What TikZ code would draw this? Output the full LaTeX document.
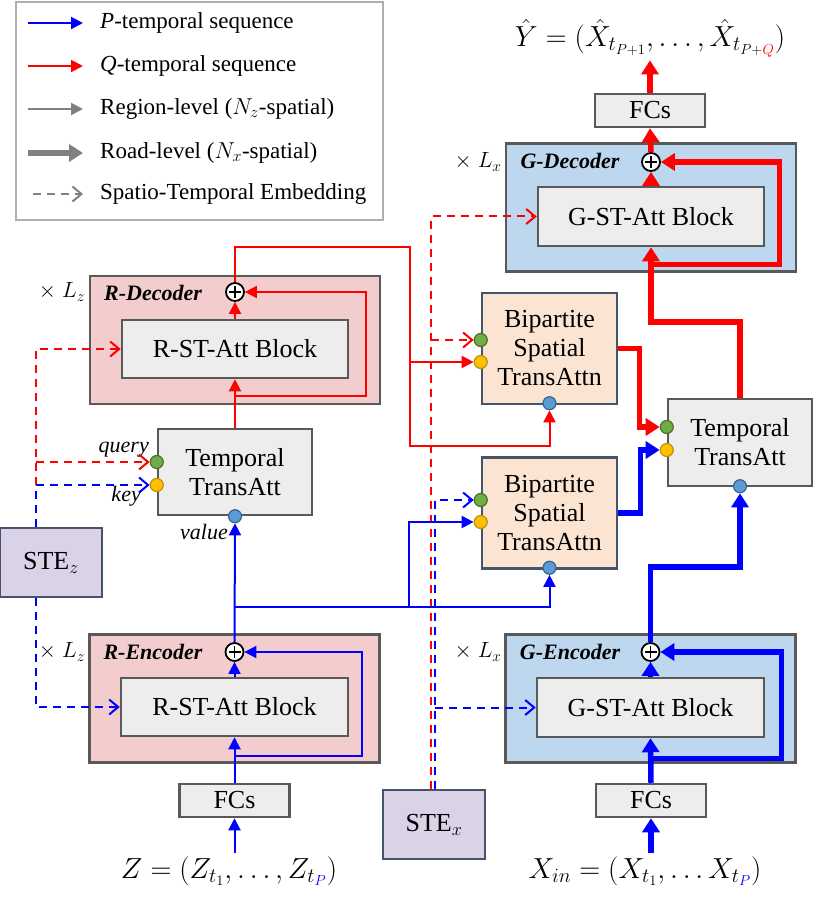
\documentclass[tikz,border=0pt]{standalone}
\usepackage{fix-cm}
\usepackage{fontspec}
\setmainfont{Liberation Serif}
\usetikzlibrary{arrows.meta,calc,positioning}
\definecolor{rfill}{RGB}{243,205,205}
\definecolor{gfill}{RGB}{189,215,238}
\definecolor{blkfill}{RGB}{237,237,237}
\definecolor{bipfill}{RGB}{251,229,210}
\definecolor{stefill}{RGB}{218,211,232}
\definecolor{edge}{RGB}{89,89,89}
\definecolor{slate}{RGB}{68,84,106}
\definecolor{lgdedge}{RGB}{175,175,175}
\definecolor{portg}{RGB}{112,173,71}
\definecolor{porty}{RGB}{255,192,0}
\definecolor{portb}{RGB}{91,155,213}
\newcommand{\blkfont}{\fontsize{26}{29}\selectfont}
\newcommand{\lgdfont}{\fontsize{23}{26}\selectfont}
\newcommand{\tagfont}{\fontsize{22}{25}\selectfont}
\newcommand{\eqfont}{\fontsize{29}{34}\selectfont}
\tikzset{
  rbox/.style={draw=edge, fill=rfill, line width=2.5pt, minimum width=290pt, minimum height=128pt},
  gbox/.style={rbox, fill=gfill},
  blk/.style={draw=edge, fill=blkfill, line width=2.5pt, font=\blkfont, inner sep=0pt, align=center},
  fcbox/.style={blk, minimum width=110pt, minimum height=33pt},
  bip/.style={draw=slate, fill=bipfill, line width=2.5pt, font=\blkfont, inner sep=0pt, align=center,
    minimum width=135pt, minimum height=111pt},
  stebox/.style={draw=slate, fill=stefill, line width=2.5pt, font=\blkfont, minimum width=102pt, minimum height=69pt},
  sumnode/.style={circle, draw=black, fill=white, line width=1.8pt, minimum size=18pt, inner sep=0pt,
    path picture={\draw[line width=1.8pt]
      ([xshift=-6pt]path picture bounding box.center) -- ([xshift=6pt]path picture bounding box.center)
      ([yshift=-6pt]path picture bounding box.center) -- ([yshift=6pt]path picture bounding box.center);}},
  port/.style={circle, line width=1.2pt, minimum size=13pt, inner sep=0pt},
  gport/.style={port, draw=portg!65!black, fill=portg},
  yport/.style={port, draw=porty!75!black, fill=porty},
  bport/.style={port, draw=portb!65!black, fill=portb},
  pline/.style={blue, line width=2pt, -{Triangle[length=12pt,width=12pt]}},
  qline/.style={red, line width=2pt, -{Triangle[length=12pt,width=12pt]}},
  pthick/.style={blue, line width=5.5pt, -{Triangle[length=14pt,width=17pt]}},
  qthick/.style={red, line width=5.5pt, -{Triangle[length=14pt,width=17pt]}},
  pste/.style={blue, line width=2pt, dash pattern=on 8pt off 6pt, -{Straight Barb[length=9pt,width=15pt]}},
  qste/.style={red, line width=2pt, dash pattern=on 8pt off 6pt, -{Straight Barb[length=9pt,width=15pt]}},
  lgd/.style={anchor=west, font=\lgdfont, inner sep=0pt},
  tag/.style={font=\tagfont, inner sep=0pt},
  boxname/.style={font=\tagfont\bfseries\itshape, inner sep=0pt}
}
\begin{document}
\begin{tikzpicture}[x=1pt,y=-1pt]
\useasboundingbox (0,0) rectangle (813,909);

% legend
\draw[lgdedge, line width=1.5pt] (16,2) rectangle (383,220);
\node[lgd] (lgp) at (100,23) {\textit{P}-temporal sequence};
\node[lgd] (lgq) at (100,66) {\textit{Q}-temporal sequence};
\node[lgd] (lgr) at (100,109) {Region-level ($N_z$-spatial)};
\node[lgd] (lgx) at (100,153) {Road-level ($N_x$-spatial)};
\node[lgd] (lgs) at (100,194) {Spatio-Temporal Embedding};
\draw[pline] ([xshift=-72pt]lgp.west) -- ([xshift=-17pt]lgp.west);
\draw[qline] ([xshift=-72pt]lgq.west) -- ([xshift=-17pt]lgq.west);
\draw[pline, gray] ([xshift=-72pt]lgr.west) -- ([xshift=-17pt]lgr.west);
\draw[pthick, gray] ([xshift=-72pt]lgx.west) -- ([xshift=-17pt]lgx.west);
\draw[pste, gray] ([xshift=-67pt]lgs.west) -- ([xshift=-17pt]lgs.west);

% region level (left)
\node[rbox] (rdec) at (235,340) {};
\node[blk, minimum width=226pt, minimum height=58pt] (rdecblk) at (235,349) {R-ST-Att Block};
\node[sumnode] (rdecsum) at (235,292) {};
\node[boxname] at (153,293) {R-Decoder};
\node[tag] at (62,292) {$\times\;L_z$};

\node[blk, minimum width=154pt, minimum height=86pt] (tta) at (235,472) {Temporal\\TransAtt};
\node[gport] (ttaq) at ([yshift=10pt]tta.west) {};
\node[yport] (ttak) at ([yshift=-13pt]tta.west) {};
\node[bport] (ttav) at (tta.south) {};
\node[tag, anchor=east] at (149,450) {\textit{query}};
\node[tag, anchor=east] at (141,496) {\textit{key}};
\node[tag, anchor=east] at (228,532) {\textit{value}};

\node[rbox] (renc) at (234.5,698.5) {};
\node[blk, minimum width=227pt, minimum height=58pt] (rencblk) at (234.5,707) {R-ST-Att Block};
\node[sumnode] (rencsum) at (234.5,652) {};
\node[boxname] at (153,652) {R-Encoder};
\node[tag] at (62,652) {$\times\;L_z$};
\node[fcbox] (rencfc) at (234.5,800.5) {FCs};
\node[font=\eqfont] (zin) at (229,871) {$Z=\bigl(Z_{t_1},\ldots,Z_{t_{\textcolor{blue}{P}}}\bigr)$};

\node[stebox] (stez) at (51,562.5) {STE$_z$};
\node[stebox] (stex) at (434,824.5) {STE$_x$};

% bipartite
\node[bip] (bipq) at (549.5,348.5) {Bipartite\\Spatial\\TransAttn};
\node[gport] (bipqg) at ([yshift=8.5pt]bipq.west) {};
\node[yport] (bipqy) at ([yshift=-13.5pt]bipq.west) {};
\node[bport] (bipqv) at ([yshift=2pt]bipq.south) {};
\node[bip] (bipp) at (549.5,513) {Bipartite\\Spatial\\TransAttn};
\node[gport] (bippg) at ([yshift=13pt]bipp.west) {};
\node[yport] (bippy) at ([yshift=-9pt]bipp.west) {};
\node[bport] (bippv) at ([yshift=2pt]bipp.south) {};

% road level (right)
\node[blk, minimum width=144pt, minimum height=87pt] (ttb) at (740,442.5) {Temporal\\TransAtt};
\node[gport] (ttbg) at ([yshift=15.5pt]ttb.west) {};
\node[yport] (ttby) at ([yshift=-7.5pt]ttb.west) {};
\node[bport] (ttbv) at ([yshift=1pt]ttb.south) {};

\node[gbox] (gdec) at (651,207.5) {};
\node[blk, minimum width=226pt, minimum height=59pt] (gdecblk) at (651,216.5) {G-ST-Att Block};
\node[sumnode] (gdecsum) at (651,162) {};
\node[boxname] at (570,161) {G-Decoder};
\node[tag] at (478,162) {$\times\;L_x$};
\node[fcbox] (gdecfc) at (650,110.5) {FCs};
\node[font=\eqfont] (yhat) at (650,38) {$\hat{Y}=(\hat{X}_{t_{P+1}},\ldots,\hat{X}_{t_{P+\textcolor{red}{Q}}})$};

\node[gbox] (genc) at (650.5,698.5) {};
\node[blk, minimum width=227pt, minimum height=59pt] (gencblk) at (650.5,707.5) {G-ST-Att Block};
\node[sumnode] (gencsum) at (650.5,652) {};
\node[boxname] at (570,652) {G-Encoder};
\node[tag] at (478,652) {$\times\;L_x$};
\node[fcbox] (gencfc) at (651,800.5) {FCs};
\node[font=\eqfont] (xin) at (645,871) {$X_{in}=\bigl(X_{t_1},\ldots X_{t_{\textcolor{blue}{P}}}\bigr)$};

% spatio-temporal embeddings
\coordinate (stezc) at ($(stez.north west)+(37,0)$);
\draw[qste] (stezc) |- (rdecblk.west);
\draw[qste] (stezc |- ttaq) -- (ttaq.west);
\draw[pste] (stezc) |- (ttak.west);
\draw[pste] (stezc |- stez.south) |- (rencblk.west);
\coordinate (stexq) at ($(stex.north)+(-3,0)$);
\coordinate (stexp) at ($(stex.north)+(1,0)$);
\draw[qste] (stexq) |- (gdecblk.west);
\draw[qste] (stexq |- bipqg) -- (bipqg.west);
\draw[pste] (stexp) |- (bippg.west);
\draw[pste] (stexp |- gencblk) -- (gencblk.west);

% P-temporal, region level
\draw[pline] (rencfc.south |- zin.north) -- (rencfc.south);
\draw[pline] (rencfc.north) -- (rencblk.south);
\draw[pline] ($(rencblk.south)+(0,19)$) -| ($(rencblk.east)+(13,0)$) |- (rencsum.east);
\draw[pline] (rencblk.north) -- (rencsum.south);
\draw[pline] (rencsum.north) -- (ttav.south);
\coordinate (pbus) at (234.5,607);
\coordinate (pbus2) at (409,607);
\draw[pline] (pbus) -| (bippv.south);
\draw[pline] (pbus2) |- (bippy.west);

% Q-temporal, region level
\draw[qline] (tta.north) -- (rdecblk.south);
\draw[qline] ($(rdecblk.south)+(0,17)$) -| ($(rdecblk.east)+(17,0)$) |- (rdecsum.east);
\draw[qline] (rdecblk.north) -- (rdecsum.south);
\coordinate (qtop) at (410,247);
\draw[qline] (rdecsum.north) |- (qtop) -- ++(0,199) -| (bipqv.south);
\draw[qline] (qtop |- bipqy) -- (bipqy.west);

% road level
\draw[pthick] (gencfc.south |- xin.north) -- (gencfc.south);
\draw[pthick] (gencfc.north) -- (gencblk.south);
\draw[pthick] ($(gencblk.south)+(0,20)$) -| ($(gencblk.east)+(16,0)$) |- (gencsum.east);
\draw[pthick] (gencblk.north) -- (gencsum.south);
\coordinate (pturn) at (650.5,567);
\draw[pthick] (gencsum.north) -- (pturn) -| (ttbv.south);
\draw[pthick] (bipp.east) -- ++(22,0) |- (ttby.west);
\draw[qthick] (bipq.east) -- ++(21,0) |- (ttbg.west);
\coordinate (qturn) at (740,322);
\draw[qthick] (ttb.north) -- (qturn) -| (gdecblk.south);
\draw[qthick] ($(gdecblk.south)+(0,17)$) -| ($(gdecblk.east)+(14,0)$) |- (gdecsum.east);
\draw[qthick] (gdecblk.north) -- (gdecsum.south);
\draw[qthick] (gdecsum.north) -- (gdecfc.south);
\draw[qthick] (gdecfc.north) -- (gdecfc.north |- yhat.south);
\end{tikzpicture}
\end{document}
